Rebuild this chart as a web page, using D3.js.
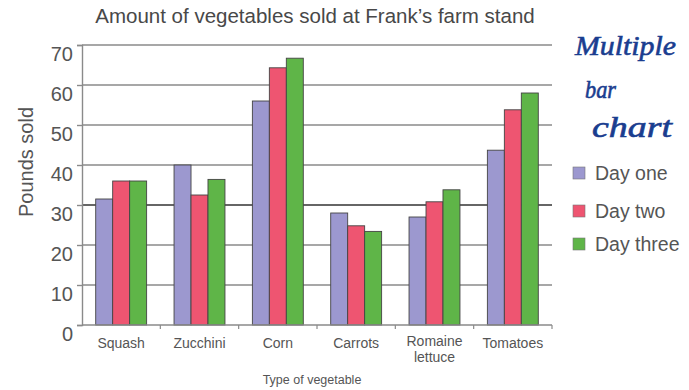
<!DOCTYPE html>
<html>
<head>
<meta charset="utf-8">
<script src="https://cdn.jsdelivr.net/npm/d3@7"></script>
<style>
  html, body { margin: 0; padding: 0; background: #fff; }
  svg { display: block; font-family: "Liberation Sans", Arial, sans-serif; }
</style>
</head>
<body>
<svg id="chart" width="689" height="390"></svg>
<script>
// Pounds of each vegetable sold on each of three days
const categories = ["Squash", "Zucchini", "Corn", "Carrots", "Romaine lettuce", "Tomatoes"];
const categoryLines = [["Squash"], ["Zucchini"], ["Corn"], ["Carrots"], ["Romaine", "lettuce"], ["Tomatoes"]];
const seriesNames = ["Day one", "Day two", "Day three"];
const dayOne = [31.5, 40, 56, 28, 27, 43.7];
const dayTwo = [36, 32.5, 64.3, 24.8, 30.8, 53.8];
const dayThree = [36, 36.4, 66.7, 23.4, 33.8, 58];
const seriesValues = [dayOne, dayTwo, dayThree];
const yTicks = [0, 10, 20, 30, 40, 50, 60, 70];
const colors = ["#9c98cf", "#ee5571", "#5fb548"];

const svg = d3.select("#chart");
const plotLeft = 82, plotRight = 552, plotTop = 45, plotBottom = 325;

const x0 = d3.scaleBand().domain(categories).range([plotLeft, plotRight])
  .paddingInner(0.35).paddingOuter(0.175);
const x1 = d3.scaleBand().domain(seriesNames).range([0, x0.bandwidth()]);
const y = d3.scaleLinear().domain([0, 70]).range([plotBottom, plotTop]);

// Title
svg.append("text")
  .attr("x", 315).attr("y", 23)
  .attr("text-anchor", "middle")
  .attr("font-size", 20.5).attr("fill", "#484848")
  .text("Amount of vegetables sold at Frank\u2019s farm stand");

// Horizontal gridlines
svg.append("g").selectAll("line").data(yTicks.filter(d => d > 0)).join("line")
  .attr("x1", plotLeft).attr("x2", plotRight)
  .attr("y1", d => y(d)).attr("y2", d => y(d))
  .attr("stroke", d => d === 30 ? "#333" : "#8a8a8a")
  .attr("stroke-width", 1.4);

// Y axis
const yAxis = d3.axisLeft(y).tickValues(yTicks).tickSize(5).tickPadding(4);
const gy = svg.append("g").attr("transform", `translate(${plotLeft},0)`).call(yAxis);
gy.select(".domain").attr("stroke", "#8a8a8a").attr("stroke-width", 1.4);
gy.selectAll(".tick line").attr("stroke", "#8a8a8a").attr("stroke-width", 1.4);
gy.selectAll(".tick text")
  .attr("font-size", 20).attr("fill", "#555")
  .attr("font-family", "Liberation Sans, Arial, sans-serif")
  .attr("x", -9)
  .attr("y", 15)
  .attr("dy", 0);

// Y axis title
svg.append("text")
  .attr("transform", "translate(33,162) rotate(-90)")
  .attr("text-anchor", "middle")
  .attr("font-size", 20).attr("fill", "#555")
  .text("Pounds sold");

// Bars
const groups = svg.append("g").selectAll("g").data(categories).join("g")
  .attr("transform", d => `translate(${x0(d)},0)`);
groups.selectAll("rect")
  .data((d, i) => seriesNames.map((s, j) => ({ s, v: seriesValues[j][i], c: colors[j] })))
  .join("rect")
  .attr("x", d => x1(d.s))
  .attr("width", x1.bandwidth())
  .attr("y", d => y(d.v))
  .attr("height", d => y(0) - y(d.v))
  .attr("fill", d => d.c)
  .attr("stroke", "#444")
  .attr("stroke-width", 0.9);

// X axis line with ticks at category boundaries
svg.append("line")
  .attr("x1", plotLeft).attr("x2", plotRight)
  .attr("y1", plotBottom).attr("y2", plotBottom)
  .attr("stroke", "#8a8a8a").attr("stroke-width", 1.4);
const step = x0.step();
svg.append("g").selectAll("line").data(d3.range(1, categories.length + 1)).join("line")
  .attr("x1", i => plotLeft + i * step).attr("x2", i => plotLeft + i * step)
  .attr("y1", plotBottom).attr("y2", plotBottom + 4)
  .attr("stroke", "#8a8a8a").attr("stroke-width", 1.2);

// Category labels
svg.append("g").selectAll("text").data(categories).join("text")
  .attr("x", d => x0(d) + x0.bandwidth() / 2)
  .attr("y", 348)
  .attr("text-anchor", "middle")
  .attr("font-size", 14).attr("fill", "#555")
  .each(function (d, i) {
    d3.select(this).selectAll("tspan").data(categoryLines[i]).join("tspan")
      .attr("x", x0(d) + x0.bandwidth() / 2)
      .attr("dy", (t, k) => k === 0 ? (categoryLines[i].length > 1 ? -2 : 0) : 16)
      .text(t => t);
  });

// X axis title
svg.append("text")
  .attr("x", 312).attr("y", 384)
  .attr("text-anchor", "middle")
  .attr("font-size", 12.5).attr("fill", "#555")
  .text("Type of vegetable");

// Legend
const legend = svg.append("g").selectAll("g").data(seriesNames).join("g")
  .attr("transform", (d, i) => `translate(573,${[173, 211, 244][i]})`);
legend.append("rect")
  .attr("x", 0).attr("y", -6).attr("width", 12).attr("height", 12)
  .attr("fill", (d, i) => colors[i]).attr("stroke", "#777").attr("stroke-width", 0.6);
legend.append("text")
  .attr("x", 22).attr("y", 0).attr("dy", "0.36em")
  .attr("font-size", 19.5).attr("fill", "#555")
  .text(d => d);

// Handwritten note
const note = svg.append("g").attr("fill", "#1a3d8f")
  .attr("stroke", "#1a3d8f").attr("stroke-width", 0.6)
  .attr("font-family", "Liberation Serif, serif").attr("font-style", "italic");
note.append("text").attr("x", 575).attr("y", 55).attr("font-size", 28)
  .attr("textLength", 101).attr("lengthAdjust", "spacingAndGlyphs").text("Multiple");
note.append("text").attr("x", 585).attr("y", 98).attr("font-size", 25)
  .attr("textLength", 31).attr("lengthAdjust", "spacingAndGlyphs").text("bar");
note.append("text").attr("x", 592).attr("y", 137).attr("font-size", 29)
  .attr("textLength", 80).attr("lengthAdjust", "spacingAndGlyphs").text("chart");
</script>
</body>
</html>
